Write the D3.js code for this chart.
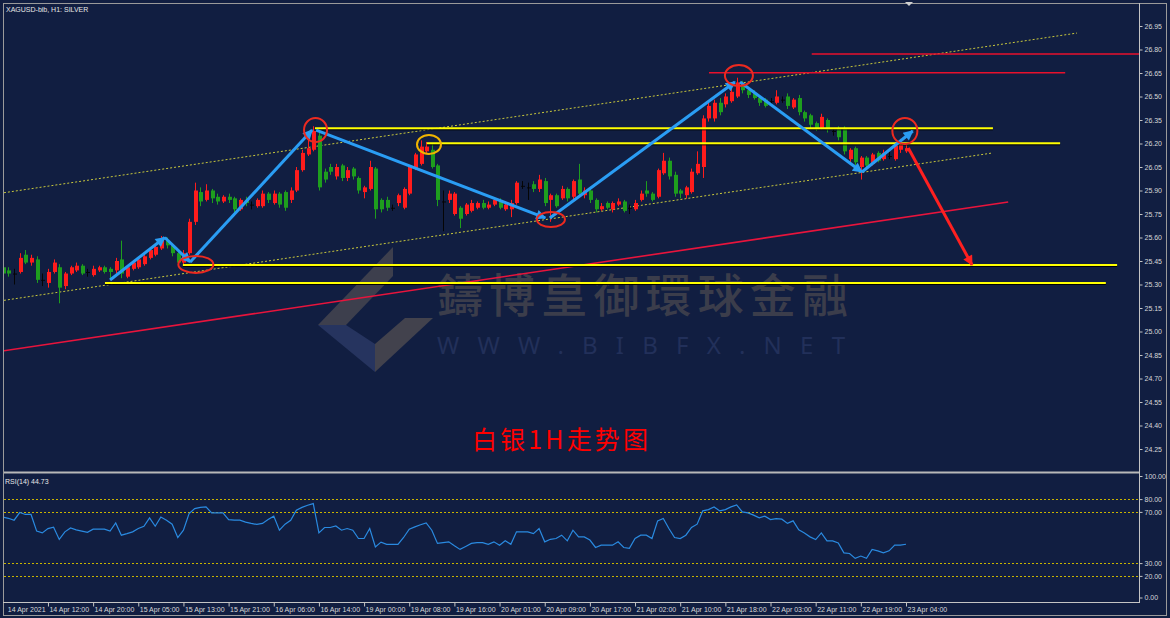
<!DOCTYPE html>
<html>
<head>
<meta charset="utf-8">
<script src="https://cdn.jsdelivr.net/npm/d3@7"></script>
<style>
body{margin:0;background:#111e41;}
svg text{font-family:"Liberation Sans",Arial,sans-serif;}
</style>
</head>
<body>
<div id="chart"></div>
<script>
// ---- data ----
var priceTicks = [26.95,26.80,26.65,26.50,26.35,26.20,26.05,25.90,25.75,25.60,25.45,25.30,25.15,25.00,24.85,24.70,24.55,24.40,24.25];
var rsiTicks = [100,80,70,30,20,0];
var rsiLevels = [80,70,30,20];
var timeLabels = ["14 Apr 2021","14 Apr 12:00","14 Apr 20:00","15 Apr 05:00","15 Apr 13:00","15 Apr 21:00","16 Apr 06:00","16 Apr 14:00","19 Apr 00:00","19 Apr 08:00","19 Apr 16:00","20 Apr 01:00","20 Apr 09:00","20 Apr 17:00","21 Apr 02:00","21 Apr 10:00","21 Apr 18:00","22 Apr 03:00","22 Apr 11:00","22 Apr 19:00","23 Apr 04:00"];

var opens = [25.41,25.39,25.37,25.38,25.49,25.44,25.46,25.33,25.31,25.38,25.41,25.29,25.37,25.39,25.42,25.38,25.36,25.39,25.41,25.40,
25.39,25.46,25.35,25.40,25.41,25.43,25.47,25.49,25.53,25.58,25.55,25.50,25.44,25.50,25.70,25.89,25.84,25.90,25.86,25.83,
25.86,25.85,25.78,25.84,25.81,25.80,25.80,25.88,25.82,25.88,25.89,25.84,25.90,26.03,26.13,26.16,26.25,26.02,26.05,25.99,
26.06,25.98,26.04,25.98,25.89,25.91,26.04,25.84,25.84,25.79,25.82,25.79,25.88,26.04,26.07,26.15,26.16,26.06,25.83,25.84,
25.75,25.79,25.75,25.77,25.79,25.82,25.79,25.81,25.84,25.78,25.78,25.82,25.93,25.92,25.94,25.91,25.96,25.84,25.87,25.85,
25.91,25.86,25.97,25.87,25.90,25.84,25.78,25.82,25.78,25.81,25.83,25.79,25.78,25.84,25.90,25.88,25.86,26.01,26.09,26.00,
25.90,25.87,25.89,26.01,26.05,26.36,26.36,26.46,26.45,26.47,26.50,26.58,26.54,26.52,26.49,26.48,26.47,26.46,26.48,26.50,
26.43,26.49,26.40,26.38,26.33,26.30,26.35,26.28,26.30,26.30,26.10,26.17,26.05,26.11,26.07,26.14,26.10,26.12,26.10,26.16,26.15];
var highs = [25.42,25.41,25.40,25.50,25.52,25.49,25.48,25.37,25.40,25.46,25.43,25.38,25.42,25.44,25.43,25.40,25.42,25.42,25.42,25.41,
25.47,25.58,25.42,25.45,25.47,25.50,25.53,25.56,25.61,25.60,25.56,25.51,25.52,25.72,25.95,25.92,25.94,25.91,25.88,25.87,
25.88,25.86,25.85,25.86,25.83,25.85,25.90,25.89,25.90,25.89,25.90,25.92,26.05,26.16,26.28,26.31,26.27,26.04,26.07,26.07,
26.07,26.05,26.05,25.99,25.93,26.09,26.05,25.85,25.86,25.81,25.88,25.92,26.06,26.14,26.22,26.21,26.20,26.07,25.90,25.90,
25.89,25.80,25.82,25.84,25.83,25.84,25.83,25.85,25.85,25.83,25.84,25.96,25.96,25.95,25.96,26.00,25.98,25.88,25.88,25.93,
25.92,25.97,26.07,25.92,25.92,25.85,25.82,25.83,25.83,25.85,25.84,25.81,25.84,25.90,25.96,25.89,26.04,26.14,26.11,26.02,
25.91,25.93,26.04,26.15,26.38,26.46,26.48,26.49,26.52,26.55,26.62,26.60,26.56,26.54,26.50,26.49,26.49,26.54,26.50,26.52,
26.49,26.51,26.41,26.39,26.34,26.39,26.36,26.30,26.31,26.31,26.17,26.18,26.12,26.12,26.14,26.15,26.16,26.16,26.21,26.23,26.19];
var lows = [25.36,25.35,25.30,25.37,25.43,25.42,25.31,25.29,25.28,25.37,25.18,25.27,25.36,25.38,25.36,25.35,25.35,25.38,25.37,25.33,
25.37,25.34,25.34,25.39,25.40,25.42,25.46,25.48,25.52,25.53,25.48,25.41,25.43,25.49,25.68,25.80,25.83,25.82,25.81,25.82,
25.82,25.76,25.77,25.80,25.78,25.79,25.79,25.82,25.81,25.79,25.77,25.82,25.89,26.02,26.12,26.15,25.90,25.95,26.00,25.97,
25.96,25.96,25.97,25.88,25.85,25.90,25.72,25.76,25.77,25.77,25.80,25.78,25.87,26.03,26.06,26.14,26.04,25.80,25.64,25.82,
25.74,25.66,25.74,25.76,25.78,25.78,25.78,25.80,25.78,25.77,25.73,25.81,25.91,25.84,25.89,25.89,25.80,25.70,25.79,25.84,
25.83,25.84,25.86,25.85,25.82,25.76,25.77,25.78,25.76,25.80,25.76,25.75,25.77,25.83,25.86,25.83,25.85,26.00,25.97,25.86,
25.85,25.85,25.88,26.00,25.98,26.34,26.34,26.38,26.43,26.46,26.49,26.52,26.49,26.48,26.44,26.43,26.45,26.45,26.46,26.42,
26.42,26.38,26.34,26.30,26.28,26.29,26.27,26.25,26.22,26.13,26.08,26.06,25.97,26.04,26.06,26.08,26.09,26.10,26.09,26.14,26.14];
var closes = [25.37,25.37,25.37,25.47,25.44,25.47,25.33,25.33,25.38,25.44,25.28,25.37,25.41,25.42,25.37,25.38,25.40,25.41,25.38,25.38,
25.45,25.37,25.41,25.44,25.46,25.48,25.52,25.54,25.58,25.55,25.50,25.44,25.50,25.70,25.90,25.83,25.90,25.85,25.83,25.86,
25.84,25.78,25.84,25.82,25.81,25.84,25.88,25.84,25.88,25.81,25.79,25.90,26.03,26.14,26.17,26.28,25.92,25.97,26.02,26.05,
25.98,26.03,25.99,25.90,25.92,26.05,25.78,25.78,25.79,25.79,25.87,25.91,26.05,26.13,26.18,26.18,26.05,25.84,25.83,25.88,
25.88,25.72,25.81,25.82,25.82,25.79,25.81,25.84,25.79,25.81,25.82,25.95,25.93,25.92,25.91,25.97,25.82,25.87,25.80,25.91,
25.85,25.96,25.88,25.90,25.84,25.78,25.80,25.79,25.82,25.83,25.77,25.79,25.82,25.88,25.88,25.84,26.03,26.09,25.99,25.88,
25.88,25.92,26.02,26.07,26.36,26.44,26.46,26.40,26.50,26.53,26.59,26.54,26.51,26.49,26.46,26.44,26.47,26.50,26.48,26.44,
26.48,26.40,26.36,26.32,26.30,26.37,26.29,26.28,26.24,26.15,26.16,26.08,26.11,26.06,26.13,26.09,26.14,26.12,26.19,26.19,26.17];
var rsi = [66,65,63.5,69.5,68,68,55,53.6,57,58,48.5,54.4,57.5,56,55,54,56.5,56.5,56.5,55,
61.4,51.8,53,54.4,57,58.8,65.3,58.8,66,63.5,60.4,50,55.7,68.7,72.6,73.5,73.9,69.2,69.2,69.2,
64,63.5,63.5,62,61,60.2,61,64,66.7,55.7,60.4,63.5,71.3,73.5,75.2,76.5,53.6,57.8,57.8,59,
55.7,57,55.7,49.2,49.2,57,42.7,46.4,44.7,44.7,44.7,50,56.5,58.3,60,61.4,55.7,45.4,46,46.6,
43.5,40.7,43,45.4,46,46,44.7,46.6,44,47.4,44.7,54.4,54.4,54.4,53,57,46.6,48.6,49.2,51.8,
47.4,55.7,50.5,50.5,48,42.2,44,44,44,46.6,42.2,41.5,49.2,51.8,51.8,49.2,63,64.8,57,50,
49.2,51.8,57.8,60.4,70.8,71.8,73.9,70.8,71.8,73.9,75.5,70,69.2,67.5,65.4,66.7,64,64.8,64.3,61,
63,56,53.6,50.5,48.4,53.6,47.4,47.4,45.8,38,37.5,33.7,35.5,33.7,40.7,39.6,38,39.6,44,44,44.73];

// drawn objects, as [bar index, price]
var channelUpper = [[-0.5,25.882],[190.3,26.905]];
var channelLower = [[-0.5,25.195],[175.4,26.14]];
var redTrend = [[0,24.876],[178.1,25.827]];
var yellowLevels = [[55.3,175.4,26.297],[75.1,187.3,26.201],[31.9,197.4,25.425],[18.1,195.4,25.31]];
var redLevels = [[125.1,188.2,26.652],[143.3,201.3,26.771]];
var blueArrows = [
  [[19.0,25.329],[28.7,25.60]],
  [[28.7,25.60],[33.2,25.444]],
  [[33.2,25.444],[54.8,26.286]],
  [[55.5,26.286],[96.1,25.725]],
  [[96.9,25.725],[129.7,26.593]],
  [[130.6,26.593],[152.2,26.018]],
  [[152.2,26.018],[161.2,26.28]]
];
var redArrow = [[160.4,26.171],[171.7,25.425]];
var redCircles = [[34.2,25.428],[55.4,26.286],[97.1,25.715],[130.4,26.634],[159.8,26.28]];
var yellowCircle = [75.5,26.194];

// ---- layout ----
var W = 1170, H = 618;
var left = 4, axisX = 1139, mainTop = 5, mainBottom = 471, rsiTop = 474, rsiBottom = 602;
var bg = "#111e41", fg = "#c4c4c4";

var svg = d3.select("#chart").append("svg")
  .attr("width", W).attr("height", H);

svg.append("rect").attr("width", W).attr("height", H).attr("fill", bg);

var x = d3.scaleLinear().domain([0, 160]).range([2.8, 906]);
var y = d3.scaleLinear().domain([24.25, 26.95]).range([449, 26]);
var yr = d3.scaleLinear().domain([0, 100]).range([601.5, 473.5]);

var defs = svg.append("defs");
defs.append("clipPath").attr("id", "clipMain").append("rect")
  .attr("x", left).attr("y", mainTop).attr("width", axisX - left).attr("height", mainBottom - mainTop);
defs.append("clipPath").attr("id", "clipRsi").append("rect")
  .attr("x", left).attr("y", rsiTop).attr("width", axisX - left).attr("height", rsiBottom - rsiTop);

function marker(id, color){
  defs.append("marker").attr("id", id)
    .attr("viewBox", "0 0 10 10").attr("refX", 9).attr("refY", 5)
    .attr("markerWidth", 13).attr("markerHeight", 10)
    .attr("markerUnits", "userSpaceOnUse").attr("orient", "auto")
    .append("path").attr("d", "M0,0L10,5L0,10z").attr("fill", color);
}
marker("headBlue", "#2a9df4");
marker("headRed", "#ff2020");

// ---- main panel ----
var main = svg.append("g").attr("clip-path", "url(#clipMain)");

// watermark
var wm = main.append("g");
wm.append("polygon").attr("points", "393,247 318,325 346,325 393,276").attr("fill", "#3d3f4d");
wm.append("polygon").attr("points", "318,325 375,372 375,344 346,325").attr("fill", "#26345f");
wm.append("polygon").attr("points", "375,372 433,318 405,318 375,344").attr("fill", "#42424d");
wm.append("text").attr("x", 437).attr("y", 312)
  .attr("textLength", 411).attr("lengthAdjust", "spacing")
  .style("font-family", "'Noto Sans CJK TC'").style("font-size", "46px").style("font-weight", "500")
  .attr("fill", "#3b3d4b").text("鑄博皇御環球金融");
wm.append("text").attr("x", 437).attr("y", 354)
  .attr("textLength", 408).attr("lengthAdjust", "spacing")
  .style("font-family", "'Noto Sans'").style("font-size", "24px")
  .attr("fill", "#22305a").text("WWW.BIBFX.NET");

// channel lines
[channelUpper, channelLower].forEach(function(c){
  main.append("line")
    .attr("x1", x(c[0][0])).attr("y1", y(c[0][1]))
    .attr("x2", x(c[1][0])).attr("y2", y(c[1][1]))
    .attr("stroke", "#c8c83c").attr("stroke-width", 1).attr("stroke-dasharray", "2,2");
});

// red trend line
main.append("line")
  .attr("x1", x(redTrend[0][0])).attr("y1", y(redTrend[0][1]))
  .attr("x2", x(redTrend[1][0])).attr("y2", y(redTrend[1][1]))
  .attr("stroke", "#e8143c").attr("stroke-width", 1.6);

// candles
var bars = d3.range(opens.length).map(function(i){
  return {i:i, o:opens[i], h:highs[i], l:lows[i], c:closes[i]};
});
function col(d){ return d.c > d.o ? "#ff1c1c" : (d.c < d.o ? "#1e9e1e" : "#050505"); }
var cg = main.append("g");
cg.selectAll("line").data(bars).join("line")
  .attr("x1", function(d){ return Math.round(x(d.i)) + 0.5; })
  .attr("x2", function(d){ return Math.round(x(d.i)) + 0.5; })
  .attr("y1", function(d){ return y(d.h); })
  .attr("y2", function(d){ return y(d.l); })
  .attr("stroke", col).attr("stroke-width", 1);
cg.selectAll("rect").data(bars).join("rect")
  .attr("x", function(d){ return Math.round(x(d.i)) - 1; })
  .attr("width", 4)
  .attr("y", function(d){ return y(Math.max(d.o, d.c)); })
  .attr("height", function(d){ return Math.max(1, Math.abs(y(d.o) - y(d.c))); })
  .attr("fill", col);

// horizontal levels
yellowLevels.forEach(function(l){
  main.append("line").attr("x1", x(l[0])).attr("x2", x(l[1]))
    .attr("y1", y(l[2]) + 1.5).attr("y2", y(l[2]) + 1.5)
    .attr("stroke", "#000").attr("stroke-width", 1);
  main.append("line").attr("x1", x(l[0])).attr("x2", x(l[1]))
    .attr("y1", y(l[2])).attr("y2", y(l[2]))
    .attr("stroke", "#ffff00").attr("stroke-width", 2);
});
redLevels.forEach(function(l){
  main.append("line").attr("x1", x(l[0])).attr("x2", x(l[1]))
    .attr("y1", y(l[2])).attr("y2", y(l[2]))
    .attr("stroke", "#e8102c").attr("stroke-width", 1.5);
});

// arrows
blueArrows.forEach(function(a){
  main.append("line")
    .attr("x1", x(a[0][0])).attr("y1", y(a[0][1]))
    .attr("x2", x(a[1][0])).attr("y2", y(a[1][1]))
    .attr("stroke", "#2a9df4").attr("stroke-width", 3)
    .attr("marker-end", "url(#headBlue)");
});
main.append("line")
  .attr("x1", x(redArrow[0][0])).attr("y1", y(redArrow[0][1]))
  .attr("x2", x(redArrow[1][0])).attr("y2", y(redArrow[1][1]))
  .attr("stroke", "#ff2020").attr("stroke-width", 3)
  .attr("marker-end", "url(#headRed)");

// circles
var circleR = [[17.5,8.5],[11.5,12],[14,7.5],[14,10.5],[12.5,13]];
redCircles.forEach(function(c, k){
  main.append("ellipse").attr("cx", x(c[0])).attr("cy", y(c[1]))
    .attr("rx", circleR[k][0]).attr("ry", circleR[k][1])
    .attr("fill", "none").attr("stroke", "#ec2a20").attr("stroke-width", 2);
});
main.append("ellipse").attr("cx", x(yellowCircle[0])).attr("cy", y(yellowCircle[1]))
  .attr("rx", 12).attr("ry", 9.5)
  .attr("fill", "none").attr("stroke", "#f0b400").attr("stroke-width", 2);

// title
main.append("text").attr("x", 472).attr("y", 449)
  .attr("textLength", 176).attr("lengthAdjust", "spacing")
  .style("font-family", "'Noto Sans CJK SC'").style("font-size", "25px")
  .attr("fill", "#ff0000").text("白银1H走势图");

svg.append("text").attr("x", 6).attr("y", 12)
  .style("font-size", "7px").attr("fill", "#e6e6e6").text("XAGUSD-bib, H1:  SILVER");

// ---- RSI panel ----
var rg = svg.append("g").attr("clip-path", "url(#clipRsi)");
rsiLevels.forEach(function(v){
  rg.append("line").attr("x1", left).attr("x2", axisX)
    .attr("y1", Math.round(yr(v)) + 0.5).attr("y2", Math.round(yr(v)) + 0.5)
    .attr("stroke", "#c8b400").attr("stroke-width", 1).attr("stroke-dasharray", "2,2");
});
rg.append("path").datum(rsi)
  .attr("d", d3.line().x(function(d, i){ return x(i); }).y(function(d){ return yr(d); }))
  .attr("fill", "none").attr("stroke", "#2a8ae0").attr("stroke-width", 1.2);
svg.append("text").attr("x", 5).attr("y", 484)
  .style("font-size", "7px").attr("fill", "#e6e6e6").text("RSI(14) 44.73");

// ---- frame and axes ----
svg.append("rect").attr("x", 3.5).attr("y", 3.5).attr("width", W - 7).attr("height", H - 6)
  .attr("fill", "none").attr("stroke", "#9a9a9a").attr("stroke-width", 1);
svg.append("rect").attr("x", left).attr("y", mainBottom + 0.5).attr("width", axisX - left).attr("height", 2)
  .attr("fill", "#b8b8b8");
svg.append("line").attr("x1", axisX + 0.5).attr("x2", axisX + 0.5).attr("y1", 3).attr("y2", rsiBottom)
  .attr("stroke", fg);
svg.append("line").attr("x1", 3).attr("x2", axisX + 1).attr("y1", rsiBottom + 0.5).attr("y2", rsiBottom + 0.5)
  .attr("stroke", fg);
svg.append("polygon").attr("points", "905,2 913,2 909,6").attr("fill", "#d0d0d0");

var yAxis = d3.axisRight(y).tickValues(priceTicks).tickSize(3).tickPadding(2)
  .tickFormat(function(d){ return d.toFixed(2); });
var ya = svg.append("g").attr("transform", "translate(" + (axisX + 0.5) + ",0)").call(yAxis);

var rAxis = d3.axisRight(yr).tickValues(rsiTicks).tickSize(3).tickPadding(2)
  .tickFormat(function(d){ return d.toFixed(2); });
var ra = svg.append("g").attr("transform", "translate(" + (axisX + 0.5) + ",0)").call(rAxis);
ra.selectAll(".tick").filter(function(d){ return d === 0; }).attr("transform", "translate(0,598)");
ra.selectAll(".tick").filter(function(d){ return d === 100; }).attr("transform", "translate(0,476.5)");

var tickIdx = timeLabels.map(function(t, k){ return k * 8; });
var xAxis = d3.axisBottom(x).tickValues(tickIdx).tickSize(4).tickPadding(1)
  .tickFormat(function(d, k){ return timeLabels[k]; });
var xa = svg.append("g").attr("transform", "translate(0," + (rsiBottom + 0.5) + ")").call(xAxis);
xa.selectAll("text").attr("text-anchor", "start").attr("dx", 1);
xa.select(".tick").select("line").remove();
xa.select(".tick").select("text").attr("x", 4.5).attr("dx", 0);

[ya, ra, xa].forEach(function(a){
  a.select(".domain").remove();
  a.selectAll(".tick line").attr("stroke", fg);
  a.selectAll(".tick text").attr("fill", "#d8d8d8")
    .style("font-family", "'Liberation Sans'").style("font-size", "7px");
});
</script>
</body>
</html>
